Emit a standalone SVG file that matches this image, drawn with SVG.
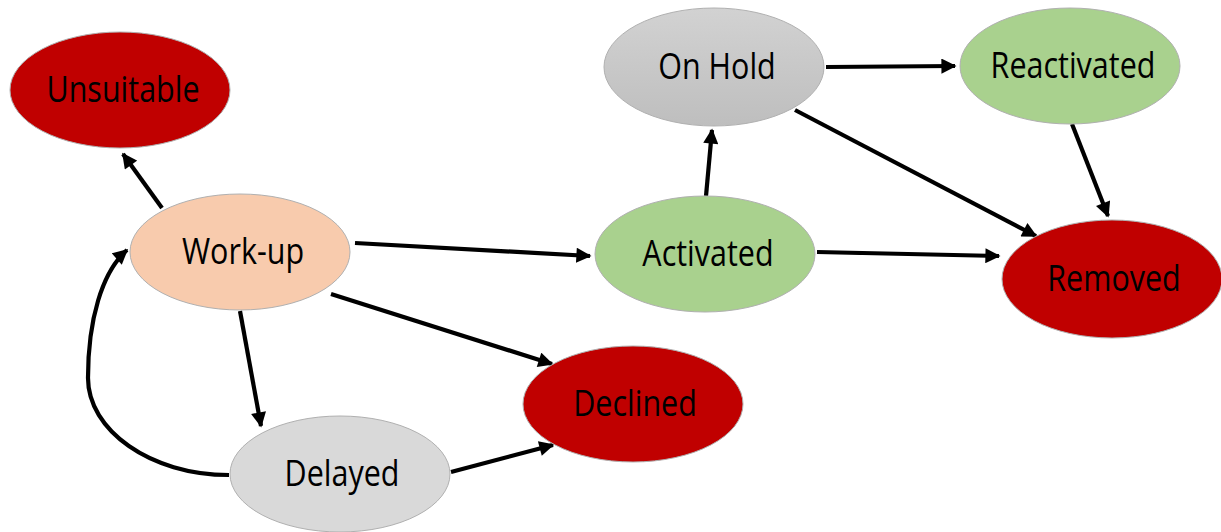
<svg xmlns="http://www.w3.org/2000/svg" width="1221" height="532" viewBox="0 0 1221 532">
  <defs>
    <marker id="arrow" viewBox="0 0 10 10" refX="9" refY="5" markerWidth="3.9" markerHeight="3.6" orient="auto" markerUnits="strokeWidth">
      <path d="M0,0 L10,5 L0,10 Z" fill="#000"/>
    </marker>
    <linearGradient id="holdFill" x1="0" y1="0" x2="0" y2="1">
      <stop offset="0" stop-color="#D2D2D2"/>
      <stop offset="1" stop-color="#BEBEBE"/>
    </linearGradient>
  </defs>
  <style>
    .node ellipse { stroke: #B0B0B0; stroke-width: 1; }
    .red { fill: #C00000; }
    .green { fill: #A9D18E; }
    .peach { fill: #F8CBAD; }
    .grey { fill: #D9D9D9; }
    .hold { fill: url(#holdFill); }
    .node text { font-family: "Open Sans", "Liberation Sans", sans-serif; font-size: 30.5px; fill: #000; text-anchor: middle; }
    .edges path { fill: none; stroke: #000; stroke-width: 4.2; marker-end: url(#arrow); }
  </style>

  <!-- connectors -->
  <g id="edges" class="edges">
    <path d="M162,208 L123,154"/>
    <path d="M355,243 L590,256"/>
    <path d="M331,294 L552,364"/>
    <path d="M240,311 L261,426"/>
    <path d="M229,475 C150,475 88,430 88,378 C88,320 102,272 127,250"/>
    <path d="M451,472 L553,445"/>
    <path d="M706,196 L712,130"/>
    <path d="M826,67 L955,66"/>
    <path d="M795,110 L1036,236"/>
    <path d="M1072,124 L1108,216"/>
    <path d="M817,252 L999,256"/>
  </g>

  <!-- states; labels are stretched vertically for a tall, narrow face -->
  <g id="unsuitable" class="node">
    <ellipse class="red" cx="120" cy="90" rx="110" ry="58"/>
    <text transform="translate(123,102) scale(1,1.18)">Unsuitable</text>
  </g>
  <g id="onhold" class="node">
    <ellipse class="hold" cx="714" cy="67" rx="110" ry="59"/>
    <text transform="translate(717,79) scale(1,1.18)">On Hold</text>
  </g>
  <g id="reactivated" class="node">
    <ellipse class="green" cx="1070" cy="66" rx="110" ry="58"/>
    <text transform="translate(1073,78) scale(1,1.18)">Reactivated</text>
  </g>
  <g id="workup" class="node">
    <ellipse class="peach" cx="240" cy="252" rx="110" ry="58"/>
    <text transform="translate(243,264) scale(1,1.18)">Work-up</text>
  </g>
  <g id="activated" class="node">
    <ellipse class="green" cx="705" cy="254" rx="110" ry="58"/>
    <text transform="translate(708,266) scale(1,1.18)">Activated</text>
  </g>
  <g id="removed" class="node">
    <ellipse class="red" cx="1112" cy="279" rx="110" ry="59"/>
    <text transform="translate(1114,291) scale(1,1.18)">Removed</text>
  </g>
  <g id="declined" class="node">
    <ellipse class="red" cx="633" cy="404" rx="110" ry="58"/>
    <text transform="translate(635,416) scale(1,1.18)">Declined</text>
  </g>
  <g id="delayed" class="node">
    <ellipse class="grey" cx="340" cy="474" rx="110" ry="58"/>
    <text transform="translate(342,486) scale(1,1.18)">Delayed</text>
  </g>
</svg>
